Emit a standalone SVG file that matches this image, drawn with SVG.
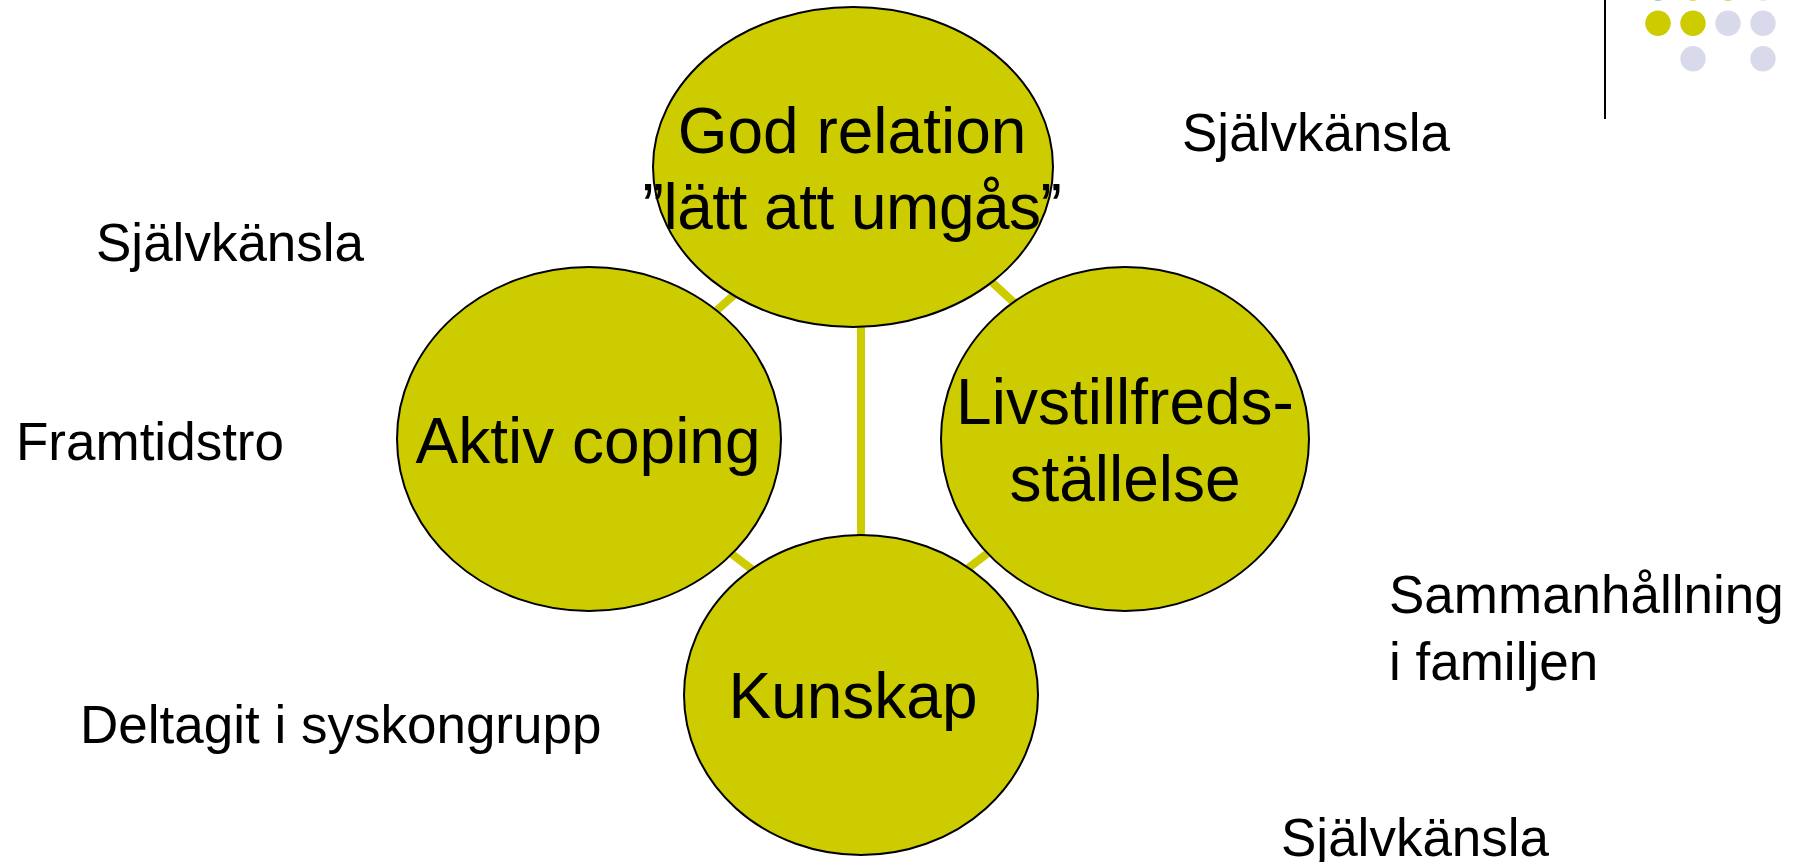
<svg xmlns="http://www.w3.org/2000/svg" width="1800" height="862" viewBox="0 0 1800 862">
<style>
.node{fill:#cccc00;stroke:#000;stroke-width:2}
.lbl{font-family:"Liberation Sans",Arial,sans-serif;font-size:64px;fill:#000;text-anchor:middle}
.free{font-family:"Liberation Sans",Arial,sans-serif;font-size:53px;fill:#000}
.conn{stroke:#cccc00;stroke-width:8;fill:none}
.dy{fill:#cccc00}
.dl{fill:#d9d9ec}
</style>
<rect width="1800" height="862" fill="#fff"/>
<g id="decoration">
<line x1="1605" y1="0" x2="1605" y2="119" stroke="#000" stroke-width="2"/>
<circle cx="1658" cy="-12" r="12.7" fill="#88aaaa"/>
<circle class="dy" cx="1693" cy="-12" r="12.7"/>
<circle class="dy" cx="1728" cy="-12" r="12.7"/>
<circle class="dl" cx="1763" cy="-12" r="12.7"/>
<circle class="dy" cx="1658" cy="23.3" r="12.7"/>
<circle class="dy" cx="1693" cy="23.3" r="12.7"/>
<circle class="dl" cx="1728" cy="23.3" r="12.7"/>
<circle class="dl" cx="1763" cy="23.3" r="12.7"/>
<circle class="dl" cx="1693" cy="58.7" r="12.7"/>
<circle class="dl" cx="1763" cy="58.7" r="12.7"/>
</g>
<g id="connectors">
<line class="conn" x1="706" y1="320" x2="744" y2="286"/>
<line class="conn" x1="983" y1="274" x2="1022" y2="310"/>
<line class="conn" x1="720" y1="545" x2="762" y2="577"/>
<line class="conn" x1="958" y1="576" x2="997" y2="546"/>
<line class="conn" x1="861" y1="318" x2="861" y2="542"/>
</g>
<g id="node-god-relation">
<ellipse class="node" cx="853" cy="167" rx="200" ry="160"/>
<text class="lbl" x="852" y="153">God relation</text>
<text class="lbl" x="852" y="229" letter-spacing="-0.5">”lätt att umgås”</text>
</g>
<g id="node-aktiv-coping">
<ellipse class="node" cx="589" cy="439" rx="192" ry="172"/>
<text class="lbl" x="588" y="463">Aktiv coping</text>
</g>
<g id="node-livstillfredsstallelse">
<ellipse class="node" cx="1125" cy="439" rx="184" ry="172"/>
<text class="lbl" x="1125" y="424">Livstillfreds-</text>
<text class="lbl" x="1125" y="501">ställelse</text>
</g>
<g id="node-kunskap">
<ellipse class="node" cx="861" cy="695" rx="177" ry="160"/>
<text class="lbl" x="853" y="718">Kunskap</text>
</g>
<g id="free-texts">
<text class="free" x="96" y="261">Självkänsla</text>
<text class="free" x="16" y="460">Framtidstro</text>
<text class="free" x="80" y="743">Deltagit i syskongrupp</text>
<text class="free" x="1182" y="151">Självkänsla</text>
<text class="free" x="1389" y="613">Sammanhållning</text>
<text class="free" x="1389" y="680">i familjen</text>
<text class="free" x="1281" y="856">Självkänsla</text>
</g>
</svg>
